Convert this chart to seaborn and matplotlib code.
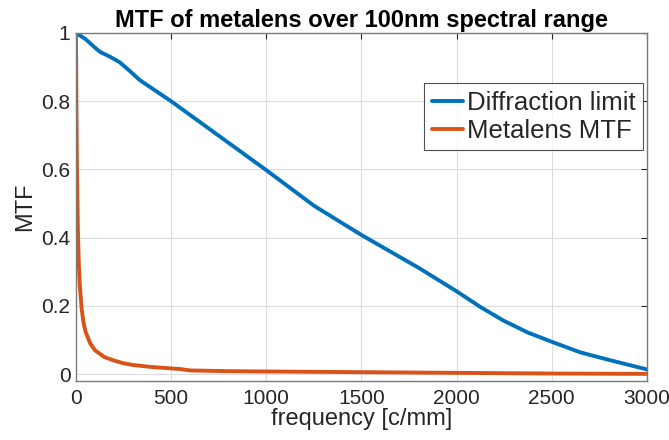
import pandas as pd
import matplotlib
matplotlib.use("Agg")
import matplotlib.pyplot as plt
import seaborn as sns

# values
diff_freq = [0, 50, 90, 125, 180, 230, 280, 335, 420, 500, 750, 1000, 1250,
             1500, 1800, 2000, 2125, 2250, 2375, 2500, 2650, 2800, 3000]
diff_mtf = [1.0, 0.982, 0.962, 0.945, 0.930, 0.914, 0.890, 0.862, 0.830,
            0.800, 0.699, 0.598, 0.494, 0.408, 0.312, 0.243, 0.197, 0.156,
            0.122, 0.095, 0.064, 0.042, 0.014]

meta_freq = [0, 2, 5, 10, 15, 20, 30, 40, 50, 75, 100, 150, 200, 250, 300,
             400, 500, 550, 600, 800, 1000, 1500, 2000, 2500, 3000]
meta_mtf = [1.0, 0.8, 0.6, 0.42, 0.32, 0.26, 0.19, 0.15, 0.125, 0.09, 0.07,
            0.05, 0.04, 0.032, 0.027, 0.021, 0.017, 0.015, 0.011, 0.009,
            0.008, 0.006, 0.004, 0.002, 0.001]

labels = ["Diffraction limit", "Metalens MTF"]
colors = ["#0072BD", "#D95319"]

df = pd.concat([
    pd.DataFrame({"freq": diff_freq, "mtf": diff_mtf, "curve": labels[0]}),
    pd.DataFrame({"freq": meta_freq, "mtf": meta_mtf, "curve": labels[1]}),
])

sns.set_theme(style="whitegrid")
plt.rcParams["font.family"] = ["Liberation Sans", "DejaVu Sans"]

fig = plt.figure(figsize=(6.69, 4.40), dpi=100)
ax = fig.add_axes([0.1136, 0.134, 0.8534, 0.791])

sns.lineplot(data=df, x="freq", y="mtf", hue="curve", palette=colors,
             linewidth=2.8, ax=ax, sort=False)

ax.set_xlim(0, 3000)
ax.set_ylim(-0.02, 1)
ax.set_xticks([0, 500, 1000, 1500, 2000, 2500, 3000])
ax.set_yticks([0, 0.2, 0.4, 0.6, 0.8, 1])
ax.set_yticklabels(["0", "0.2", "0.4", "0.6", "0.8", "1"])

ax.set_facecolor("white")
ax.grid(True, color="#dcdcdc", linewidth=0.8)
for sp in ax.spines.values():
    sp.set_visible(True)
    sp.set_color("#7a7a7a")
    sp.set_linewidth(1.0)
ax.tick_params(direction="in", length=4, width=0.8, colors="#262626",
               labelsize=15, top=True, right=True, pad=4)
ax.tick_params(axis="x", pad=6)

ax.set_xlabel("frequency [c/mm]", fontsize=17, color="#262626", labelpad=0)
ax.set_ylabel("MTF", fontsize=17, color="#262626", labelpad=4)
ax.set_title("MTF of metalens over 100nm spectral range", fontsize=17,
             fontweight="bold", color="black", pad=4)

leg = ax.legend(loc="upper right", bbox_to_anchor=(0.993, 0.856),
                fontsize=18.5, frameon=True, fancybox=False, handlelength=1.2,
                handletextpad=0.15, borderpad=0.3, labelspacing=0.15,
                borderaxespad=0)
leg.get_frame().set_edgecolor("#262626")
leg.get_frame().set_linewidth(0.8)
for line in leg.get_lines():
    line.set_linewidth(2.8)

fig.savefig("out.png", dpi=100)
